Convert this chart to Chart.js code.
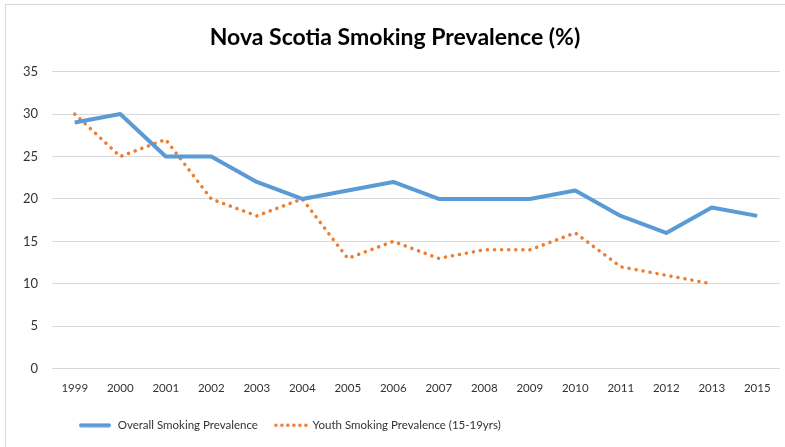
<!DOCTYPE html>
<html>
<head>
<meta charset="utf-8">
<script src="https://cdn.jsdelivr.net/npm/chart.js@4/dist/chart.umd.min.js"></script>
<style>
  body { margin: 0; background: #fff; }
  #frame { position: absolute; left: 5px; top: 4px; width: 800px; height: 460px; border: 1px solid #d9d9d9; }
  #wrap { position: absolute; left: 0; top: 0; width: 785px; height: 447px; }
</style>
</head>
<body>
<div id="frame"></div>
<div id="wrap"><canvas id="smoking"></canvas></div>
<script>
// ================= data =================
const years = ["1999","2000","2001","2002","2003","2004","2005","2006","2007","2008","2009","2010","2011","2012","2013","2015"]
const overall = [29,30,25,25,22,20,21,22,20,20,20,21,18,16,19,18]
const youth = [30,25,27,20,18,20,13,15,13,14,14,16,12,11,10,null]
const yTicks = [0,5,10,15,20,25,30,35]

const font = "Lato, 'Open Sans', sans-serif"
const blue = "#5b9bd5"
const orange = "#ed7d31"

// little legend swatches
function swatch(kind) {
  const c = document.createElement("canvas")
  c.width = 34; c.height = 5
  const g = c.getContext("2d")
  if (kind === "solid") {
    g.fillStyle = blue
    g.beginPath(); g.roundRect(0, 0.5, 32, 4, 2); g.fill()
  } else {
    g.fillStyle = orange
    for (let i = 0; i < 6; i++) { g.beginPath(); g.arc(2 + i * 6, 2.5, 1.8, 0, Math.PI * 2); g.fill() }
  }
  return c
}

// legend sits left of centre in the original
const moveLegend = {
  id: "moveLegend",
  afterLayout(chart) {
    chart.legend.left = 63
    chart.legend.top -= 6
  }
}

const ctx = document.getElementById("smoking").getContext("2d")
let chart = new Chart(ctx, {
  type: "line",
  data: {
    labels: years,
    datasets: [{
      label: "Overall Smoking Prevalence",
      data: overall,
      borderColor: blue,
      backgroundColor: blue,
      borderWidth: 4,
      pointRadius: 0,
      tension: 0,
      borderJoinStyle: "round",
      pointStyle: swatch("solid")
    }, {
      label: "Youth Smoking Prevalence (15-19yrs)",
      data: youth,
      borderColor: orange,
      backgroundColor: orange,
      borderWidth: 3.5,
      borderDash: [0.1, 7],
      borderCapStyle: "round",
      pointRadius: 0,
      tension: 0,
      pointStyle: swatch("dots")
    }]
  },
  plugins: [moveLegend],
  options: {
    responsive: true,
    maintainAspectRatio: false,
    animation: false,
    layout: { padding: { left: 10, right: 5, top: 18, bottom: 0 } },
    plugins: {
      title: {
        display: true,
        text: "Nova Scotia Smoking Prevalence (%)",
        color: "#000",
        font: { family: font, size: 23, weight: "bold" },
        padding: { top: 6, bottom: 20 }
      },
      legend: {
        position: "bottom",
        align: "start",
        labels: {
          usePointStyle: true,
          pointStyleWidth: 32,
          color: "#333",
          font: { family: font, size: 11.5 },
          padding: 17
        }
      },
      tooltip: { enabled: false }
    },
    scales: {
      x: {
        offset: true,
        grid: { display: false, drawTicks: false },
        border: { display: false },
        ticks: { color: "#333", font: { family: font, size: 11.5 }, maxRotation: 0, padding: 13 }
      },
      y: {
        min: 0,
        max: 35,
        afterBuildTicks: axis => { axis.ticks = yTicks.map(v => ({ value: v })) },
        afterFit: axis => { axis.width = 42 },
        grid: { color: "#d9d9d9", drawTicks: false },
        border: { display: false },
        ticks: { color: "#333", font: { family: font, size: 13 }, padding: 14 }
      }
    }
  }
})
</script>
</body>
</html>
